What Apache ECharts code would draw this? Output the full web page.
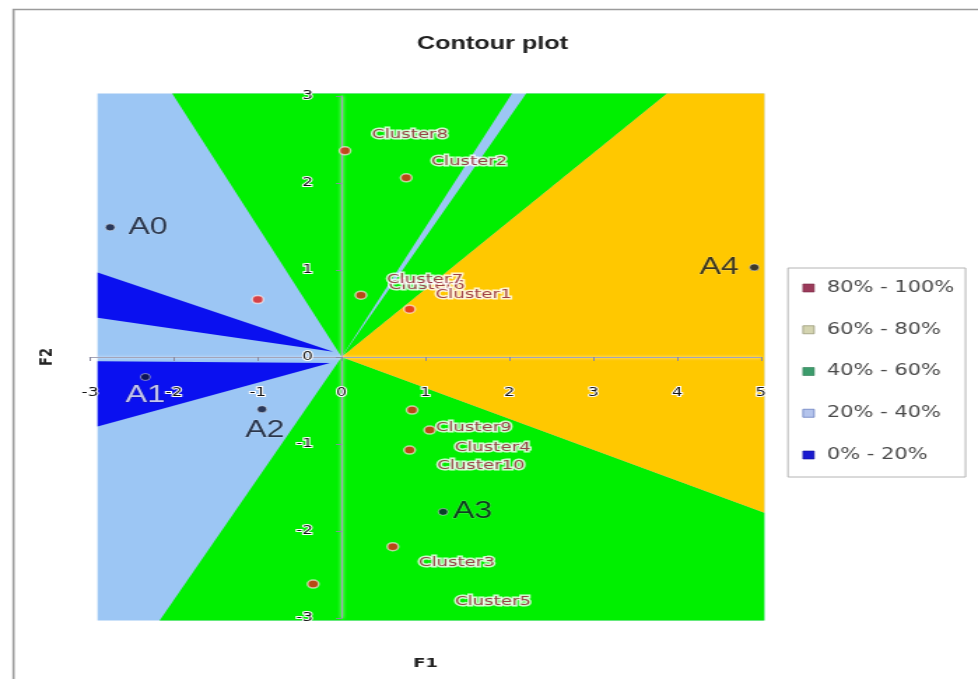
<!DOCTYPE html>
<html>
<head>
<meta charset="utf-8">
<title>Contour plot</title>
<script src="https://cdn.jsdelivr.net/npm/echarts@6/dist/echarts.min.js"></script>
<style>
  html, body { margin: 0; padding: 0; background: #ffffff; width: 978px; height: 679px; overflow: hidden; }
  /* the chart is laid out narrow and widened horizontally, giving the wide lettering */
  #chart { width: 699px; height: 679px; transform: scaleX(1.3991); transform-origin: 0 0; }
</style>
</head>
<body>
<div id="chart"></div>
<script>
// ---- axis ticks ----
const f1Ticks = [-3, -2, -1, 0, 1, 2, 3, 4, 5];
const f2Ticks = [-3, -2, -1, 0, 1, 2, 3];

// ---- contour bands (legend order) ----
const bandNames = ['80% - 100%', '60% - 80%', '40% - 60%', '20% - 40%', '0% - 20%'];

// band outlines in (F1, F2) units
const band80to100 = [];
const band60to80 = [
  [[0, 0], [3.88, 3.03], [5.04, 3.03], [5.04, -1.79]]
];
const band40to60 = [
  [[-2.02, 3.03], [2.03, 3.03], [0, 0]],
  [[2.20, 3.03], [3.88, 3.03], [0, 0]],
  [[0, 0], [5.04, -1.79], [5.04, -3.03], [-2.17, -3.03]]
];
const band20to40 = [
  [[-2.91, -3.03], [5.04, -3.03], [5.04, 3.03], [-2.91, 3.03]]
];
const band0to20 = [
  [[-2.91, 0.97], [-0.10, 0.06], [-2.91, 0.45]],
  [[-2.91, -0.05], [-0.14, -0.07], [-2.91, -0.80]]
];

// ---- observations ----
const clusterNames = ['Cluster8', 'Cluster2', 'Cluster6', 'Cluster7', 'Cluster1',
                      'Cluster10', 'Cluster9', 'Cluster4', 'Cluster3', 'Cluster5'];
const clusterF1 = [0.04, 0.77, -1.00, 0.23, 0.81, 0.84, 1.05, 0.81, 0.61, -0.34];
const clusterF2 = [2.37, 2.06, 0.66, 0.71, 0.55, -0.61, -0.84, -1.07, -2.18, -2.61];

const anchorNames = ['A0', 'A1', 'A2', 'A3', 'A4'];
const anchorF1 = [-2.76, -2.34, -0.95, 1.21, 4.92];
const anchorF2 = [1.49, -0.23, -0.60, -1.78, 1.03];

// ---- styling ----
const bandFill = {
  '80% - 100%': '#993355',
  '60% - 80%': '#ffc800',
  '40% - 60%': '#00f000',
  '20% - 40%': '#9cc6f4',
  '0% - 20%': '#0a10f0'
};
const legendSwatch = {
  '80% - 100%': { color: '#9b3a5a', borderColor: '#7a2a44', borderWidth: 0.6 },
  '60% - 80%': { color: '#d4d4b0', borderColor: '#9a9a7a', borderWidth: 0.8 },
  '40% - 60%': { color: '#3c9c6c', borderColor: '#2a7a50', borderWidth: 0.6 },
  '20% - 40%': { color: '#b4c4ec', borderColor: '#6a80c0', borderWidth: 0.8 },
  '0% - 20%': { color: '#1a1ad0', borderColor: '#10109a', borderWidth: 0.6 }
};
const bandPolygons = {
  '80% - 100%': band80to100,
  '60% - 80%': band60to80,
  '40% - 60%': band40to60,
  '20% - 40%': band20to40,
  '0% - 20%': band0to20
};
// drawing order: background band first, narrow bands last
const drawOrder = ['20% - 40%', '40% - 60%', '60% - 80%', '80% - 100%', '0% - 20%'];

// label placement for each cluster point: [dx, dy] from the point
const clusterLabelShift = [
  [20, -15], [18.6, -15], [94.3, -13], [19.3, -15], [19.3, -14],
  [18.6, 56], [5, -2], [32.9, -2], [19.3, 17], [102.1, 18]
];
const anchorLabelStyle = [
  { position: 'right', distance: 9 },
  { position: 'bottom', distance: 3, color: '#f2f2f2', textBorderColor: 'rgba(40,40,90,0.55)', textBorderWidth: 1 },
  { position: 'bottom', distance: 6, offset: [2, 0] },
  { position: 'right', distance: 3 },
  { position: 'left', distance: 7 }
];

const clusterSize = 8;
const anchorSize = 7;

// plot box
const gridLeft = 64.33, gridTop = 96, gridWidth = 479.6, gridHeight = 522;
const f1Min = f1Ticks[0], f1Max = f1Ticks[f1Ticks.length - 1];
const f2Min = f2Ticks[0], f2Max = f2Ticks[f2Ticks.length - 1];
// axes cross at the origin: shift each axis from its grid edge to zero
const xAxisShift = -gridHeight * (0 - f2Min) / (f2Max - f2Min);
const yAxisShift = -gridWidth * (0 - f1Min) / (f1Max - f1Min);

function bandSeries(name, order) {
  const polys = bandPolygons[name];
  return {
    type: 'custom',
    name: name,
    coordinateSystem: 'cartesian2d',
    silent: true,
    clip: false,
    z: 1 + order * 0.01,
    itemStyle: { color: bandFill[name] },
    data: polys.map(function (p, i) { return [i]; }),
    renderItem: function (params, api) {
      const pts = polys[params.dataIndex].map(function (pt) { return api.coord(pt); });
      return {
        type: 'polygon',
        shape: { points: pts },
        style: { fill: bandFill[name], stroke: null }
      };
    }
  };
}

const clusterData = clusterNames.map(function (n, i) {
  const s = clusterLabelShift[i];
  return {
    name: n,
    value: [clusterF1[i], clusterF2[i]],
    label: { position: [s[0] + clusterSize / 2, s[1] + clusterSize / 2] }
  };
});

const anchorData = anchorNames.map(function (n, i) {
  return {
    name: n,
    value: [anchorF1[i], anchorF2[i]],
    label: anchorLabelStyle[i]
  };
});

const axisLineStyle = { color: '#a4a4b8', width: 1.1, shadowColor: 'rgba(255,255,255,0.95)', shadowBlur: 3 };
const tickLabelStyle = {
  fontFamily: 'DejaVu Sans', fontSize: 12, color: '#151515',
  textBorderColor: '#ffffff', textBorderWidth: 2
};
const axisNameStyle = { fontFamily: 'DejaVu Sans', fontWeight: 'bold', fontSize: 13, color: '#222222' };

const option = {
  animation: false,
  backgroundColor: '#ffffff',
  title: {
    text: 'Contour plot',
    left: 352,
    top: 35,
    textAlign: 'center',
    padding: 0,
    textStyle: { fontFamily: 'Liberation Sans', fontWeight: 'bold', fontSize: 18, color: '#202020' }
  },
  legend: {
    orient: 'vertical',
    left: 563.2,
    top: 268,
    padding: [10, 8, 12, 10.3],
    itemWidth: 8,
    itemHeight: 8,
    itemGap: 21.75,
    icon: 'rect',
    selectedMode: false,
    borderColor: '#b4b4b4',
    borderWidth: 1,
    backgroundColor: '#ffffff',
    textStyle: { fontFamily: 'DejaVu Sans', fontSize: 15, color: '#4a4a4a', lineHeight: 20, padding: [0, 0, 0, 4] },
    data: bandNames.map(function (n) { return { name: n, itemStyle: legendSwatch[n] }; })
  },
  grid: {
    left: gridLeft,
    top: gridTop,
    width: gridWidth,
    height: gridHeight,
    outerBoundsMode: 'none'
  },
  xAxis: {
    type: 'value',
    position: 'bottom',
    offset: xAxisShift,
    min: f1Min,
    max: f1Max,
    interval: 1,
    z: 5,
    axisLine: { onZero: false, lineStyle: axisLineStyle },
    axisTick: { show: true, length: 4, lineStyle: { color: '#8a8aa0' } },
    axisLabel: Object.assign({ margin: 30 }, tickLabelStyle),
    splitLine: { show: false },
    name: 'F1',
    nameLocation: 'middle',
    nameGap: 300,
    nameTextStyle: axisNameStyle
  },
  yAxis: {
    type: 'value',
    position: 'left',
    offset: yAxisShift,
    min: f2Min,
    max: f2Max,
    interval: 1,
    z: 5,
    axisLine: { onZero: false, lineStyle: axisLineStyle },
    axisTick: { show: true, length: 4, lineStyle: { color: '#8a8aa0' } },
    axisLabel: Object.assign({ margin: 20.5 }, tickLabelStyle),
    splitLine: { show: false },
    name: 'F2',
    nameLocation: 'middle',
    nameGap: 204,
    nameTextStyle: axisNameStyle
  },
  graphic: [{
    type: 'rect',
    left: 7.15,
    top: 7,
    silent: true,
    shape: { width: 2000, height: 2000 },
    style: { fill: 'none', stroke: '#9b9b9b', lineWidth: 1.6 }
  }],
  series: drawOrder.map(function (n, k) { return bandSeries(n, k); }).concat([
    {
      type: 'scatter',
      name: 'clusters',
      z: 10,
      symbol: 'circle',
      symbolSize: clusterSize,
      itemStyle: { color: '#e3201b', borderColor: 'rgba(255,255,255,0.75)', borderWidth: 1.5 },
      label: {
        show: true,
        formatter: '{b}',
        align: 'left',
        verticalAlign: 'middle',
        fontFamily: 'DejaVu Sans',
        fontSize: 13,
        color: '#8a1424',
        textBorderColor: '#ffffff',
        textBorderWidth: 3
      },
      data: clusterData
    },
    {
      type: 'scatter',
      name: 'anchors',
      z: 11,
      symbol: 'circle',
      symbolSize: anchorSize,
      itemStyle: { color: '#0c1433', borderColor: 'rgba(255,255,255,0.6)', borderWidth: 1 },
      label: {
        show: true,
        formatter: '{b}',
        fontFamily: 'Liberation Sans',
        fontSize: 23,
        color: '#0b1020',
        textBorderColor: 'rgba(255,255,255,0.3)',
        textBorderWidth: 1
      },
      data: anchorData
    }
  ])
};

const chart = echarts.init(document.getElementById('chart'), null, { width: 699, height: 679, renderer: 'canvas' });
chart.setOption(option);
</script>
</body>
</html>
